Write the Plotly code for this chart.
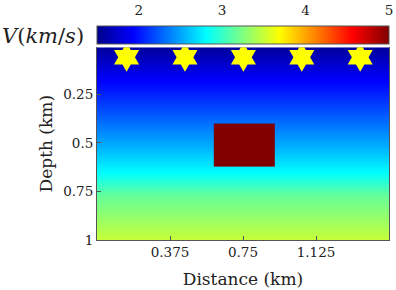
import plotly.graph_objects as go

# ---------------- data ----------------
distance_km = [0.0, 1.5]
depth_km = [0.0, 0.17, 0.35, 0.52, 0.65, 0.77, 1.0]
velocity_kms = [1.55, 1.92, 2.24, 2.55, 2.81, 3.16, 3.5]

anomaly_x_edges = [0.6, 0.915]
anomaly_depth_edges = [0.4, 0.62]
anomaly_velocity = 5.0

source_x = [0.152, 0.452, 0.752, 1.052, 1.352]
source_depth = [0.058, 0.058, 0.058, 0.058, 0.058]

v_range = [1.5, 5.0]
cbar_ticks = [2, 3, 4, 5]
x_ticks = [0.375, 0.75, 1.125, 1.5]
x_ticklabels = ["0.375", "0.75", "1.125", "1.5"]
y_ticks = [0.25, 0.5, 0.75, 1.0]
y_ticklabels = ["0.25", "0.5", "0.75", "1"]

# ---------------- style ----------------
jet = [[0.0, "rgb(0,0,140)"], [0.125, "rgb(0,0,255)"], [0.375, "rgb(0,255,255)"],
       [0.625, "rgb(255,255,0)"], [0.875, "rgb(255,0,0)"], [1.0, "rgb(128,0,0)"]]
FONT = "DejaVu Serif"
TXT = "#222222"
LINE = "#555555"

W, H = 396, 290
ML, MR, MT, MB = 97, 7, 2, 50
ph = H - MT - MB
def py(pix):  # pixel row -> paper fraction
    return (H - MB - pix) / ph

bg_z = [[v for _ in distance_km] for v in velocity_kms]

fig = go.Figure()
fig.add_trace(go.Heatmap(x=distance_km, y=depth_km, z=bg_z, coloraxis="coloraxis",
                         zsmooth="best", hoverinfo="skip"))
fig.add_trace(go.Heatmap(x=anomaly_x_edges, y=anomaly_depth_edges, z=[[anomaly_velocity]],
                         coloraxis="coloraxis", zsmooth=False, hoverinfo="skip"))
fig.add_trace(go.Scatter(x=source_x, y=source_depth, mode="markers",
                         marker=dict(symbol="hexagram", size=22, color="#ffff00",
                                     line=dict(width=0)),
                         showlegend=False, hoverinfo="skip"))
fig.add_trace(go.Scatter(x=[], y=[], xaxis="x2", yaxis="y2", showlegend=False,
                         hoverinfo="skip"))

fig.update_layout(
    width=W, height=H,
    margin=dict(l=ML, r=MR, t=MT, b=MB),
    paper_bgcolor="white", plot_bgcolor="white",
    font=dict(family=FONT, color=TXT, size=13),
    showlegend=False,
    coloraxis=dict(
        colorscale=jet, cmin=v_range[0], cmax=v_range[1],
        colorbar=dict(orientation="h", x=0, xanchor="left", y=py(42), yanchor="bottom",
                      len=1, lenmode="fraction", thickness=18, thicknessmode="pixels",
                      xpad=0, ypad=0, outlinecolor=LINE, outlinewidth=1,
                      showticklabels=False, ticks=""),
    ),
    xaxis=dict(domain=[0, 1], range=[0, 1.5], tickvals=x_ticks, ticktext=x_ticklabels,
               ticks="inside", ticklen=4, tickcolor=LINE, showline=True, mirror=False,
               linecolor=LINE, linewidth=1, showgrid=False, zeroline=False,
               tickfont=dict(size=13.5),
               title=dict(text="Distance (km)", font=dict(size=17), standoff=13)),
    yaxis=dict(domain=[0, py(44)], range=[1.0, 0.007], tickvals=y_ticks,
               ticktext=y_ticklabels, ticks="inside", ticklen=4, tickcolor=LINE,
               showline=True, mirror=True, linecolor=LINE, linewidth=1,
               showgrid=False, zeroline=False, tickfont=dict(size=13.5),
               title=dict(text="Depth (km)", font=dict(size=17), standoff=6)),
    xaxis2=dict(domain=[0, 1], anchor="y2", side="top", range=v_range,
                tickvals=cbar_ticks, ticks="outside", ticklen=6,
                tickcolor="rgba(0,0,0,0)", showline=False, showgrid=False,
                zeroline=False, tickfont=dict(size=13.5)),
    yaxis2=dict(domain=[py(42), py(24)], range=[0, 1], visible=False),
    annotations=[dict(text="<i>V</i>(<i>km</i>/<i>s</i>)", xref="paper", yref="paper",
                      x=-ML / (W - ML - MR), xanchor="left", y=py(33), yanchor="middle",
                      showarrow=False, font=dict(size=21, family=FONT, color=TXT))],
)

fig.write_html("out.html")
